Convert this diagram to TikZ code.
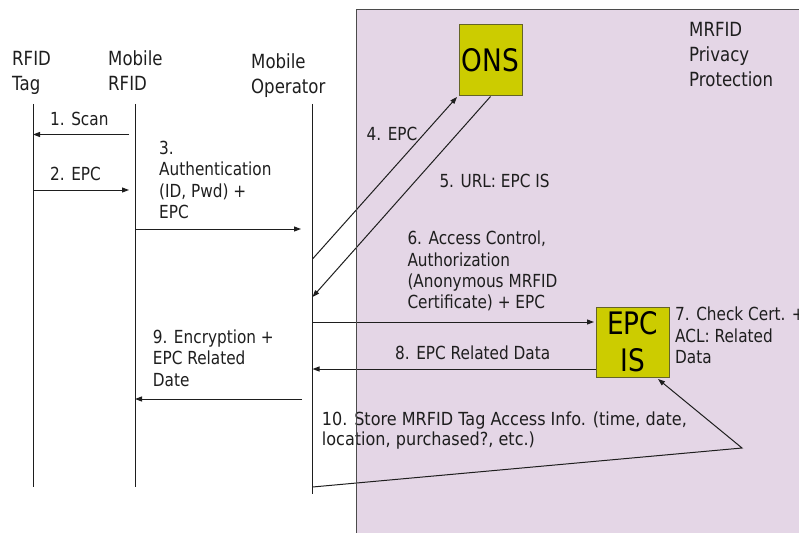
\documentclass[tikz,border=0pt]{standalone}
\usepackage{fontspec}
\setmainfont{DejaVu Sans}[FakeStretch=0.85]
\usetikzlibrary{arrows.meta}
\definecolor{pinkbg}{RGB}{228,214,230}
\definecolor{boxfill}{RGB}{204,204,0}
\definecolor{boxline}{RGB}{100,100,40}
\definecolor{ink}{RGB}{30,30,30}
\begin{document}
\begin{tikzpicture}[x=1pt,y=-1pt,
  lbl/.style={font=\fontsize{18}{21.4}\selectfont, align=left, anchor=base west, inner sep=0pt, text=ink},
  hdr/.style={font=\fontsize{19.5}{24.7}\selectfont, align=left, anchor=base west, inner sep=0pt, text=ink},
  srv/.style={draw=boxline, fill=boxfill, line width=1pt, inner sep=0pt, font=\fontsize{31}{36.7}\selectfont, align=center},
  life/.style={draw=ink, line width=1pt},
  msg/.style={draw=ink, line width=1pt, -{Triangle[length=7pt,width=5pt]}},
  frame/.style={draw=ink!80, line width=1.2pt}]
\useasboundingbox (0,0) rectangle (799,532);
\fill[pinkbg] (356.5,9.5) rectangle (810,545);

% lifeline coordinates
\coordinate (tagT) at (33,104);   \coordinate (tagB) at (33,487);
\coordinate (rfT)  at (135,104);  \coordinate (rfB)  at (135,487);
\coordinate (opT)  at (312.5,104);\coordinate (opB)  at (312.5,494);

% headers (anchored at the baseline of the last line)
\node[hdr] (hTag) at (12,90.7) {RFID\\Tag};
\node[hdr] (hRf) at (108,90.7) {Mobile\\RFID};
\node[hdr] (hOp) at (251,93.2) {Mobile\\Operator};
\node[hdr] (hMr) at (689,86.4) {MRFID\\Privacy\\Protection};

% servers
\node[srv, minimum width=63pt, minimum height=71pt] (ons) at (490.5,60.5) {ONS};
\node[srv, minimum width=73pt, minimum height=70pt] (epc) at (632.5,342) {EPC\\IS};

% lifelines
\draw[life] (tagT) -- (tagB);
\draw[life] (rfT) -- (rfB);
\draw[life] (opT) -- (opB);

% message endpoints
\coordinate (m1s) at (129,134.5); \coordinate (m1e) at (33,134.5);
\coordinate (m2s) at (33,190);    \coordinate (m2e) at (129,190);
\coordinate (m3s) at (135,229);   \coordinate (m3e) at (301,229);
\coordinate (m4s) at (312.5,259); \coordinate (m4e) at (457,97);
\coordinate (m5e) at (312.5,297);
\coordinate (m6s) at (312.5,322); \coordinate (m6e) at (594,322);
\coordinate (m8s) at (596,369);   \coordinate (m8e) at (312.5,369);
\coordinate (m9s) at (302,399);   \coordinate (m9e) at (135,399);
\coordinate (m10s) at (312.5,487);\coordinate (m10k) at (742,448); \coordinate (m10e) at (658,379);

\draw[msg] (m1s) -- (m1e);
\draw[msg] (m2s) -- (m2e);
\draw[msg] (m3s) -- (m3e);
\draw[msg] (m4s) -- (m4e);
\draw[msg] (ons.south) -- (m5e);
\draw[msg] (m6s) -- (m6e);
\draw[msg] (m8s) -- (m8e);
\draw[msg] (m9s) -- (m9e);
\draw[msg] (m10s) -- (m10k) -- (m10e);

% labels (anchored at the baseline of the last line)
\node[lbl] (l1) at (50,125.7) {1. Scan};
\node[lbl] (l2) at (50,180) {2. EPC};
\node[lbl] (l3) at (159,218.5) {3.\\Authentication\\(ID, Pwd) +\\EPC};
\node[lbl] (l4) at (366.5,140) {4. EPC};
\node[lbl] (l5) at (439.3,187.3) {5. URL: EPC IS};
\node[lbl] (l6) at (407.3,308.8) {6. Access Control,\\Authorization\\(Anonymous MRFID\\Certificate) + EPC};
\node[lbl] (l7) at (675,363.5) {7. Check Cert. +\\ACL: Related\\Data};
\node[lbl] (l8) at (395,359.3) {8. EPC Related Data};
\node[lbl] (l9) at (152.7,386) {9. Encryption +\\EPC Related\\Date};
\node[lbl, font=\fontsize{18}{20.2}\selectfont, xscale=1.05] (l10) at (321.7,445.3) {10. Store MRFID Tag Access Info. (time, date,\\location, purchased?, etc.)};

% frame of privacy region
\draw[frame] (810,9.5) -- (356.5,9.5) -- (356.5,545);
\end{tikzpicture}
\end{document}
